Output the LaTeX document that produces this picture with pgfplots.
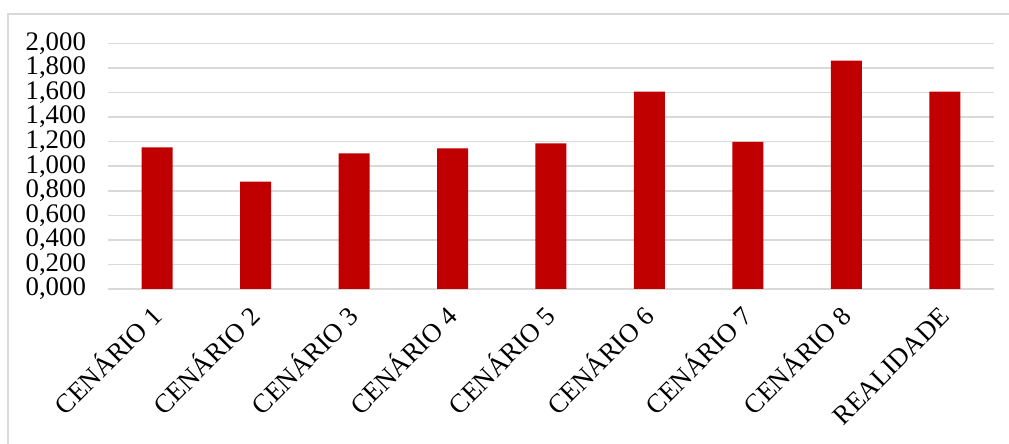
\documentclass[border=0pt]{standalone}
\usepackage{pgfplots}
\pgfplotsset{compat=1.18}
\usepackage{fontspec}
\setmainfont{Liberation Serif}
\definecolor{barred}{HTML}{C00000}
\definecolor{gridgray}{HTML}{D9D9D9}
\begin{document}
\begin{tikzpicture}
\useasboundingbox (0,0) rectangle (504.5pt,222pt);
\draw[gridgray, line width=0.8pt] (4pt,0) -- (4pt,215pt) -- (504.5pt,215pt);
\begin{axis}[
  at={(54pt,77.5pt)}, anchor=south west,
  scale only axis, width=443pt, height=122.75pt,
  xmin=-0.5, xmax=8.5, ymin=0, ymax=2,
  ytick={0,0.2,0.4,0.6,0.8,1.0,1.2,1.4,1.6,1.8,2.0},
  xtick={0,1,2,3,4,5,6,7,8},
  xticklabels={CENÁRIO 1,CENÁRIO 2,CENÁRIO 3,CENÁRIO 4,CENÁRIO 5,CENÁRIO 6,CENÁRIO 7,CENÁRIO 8,REALIDADE},
  axis line style={draw=none},
  major tick length=0pt,
  ymajorgrids, grid style={gridgray, line width=0.75pt},
  /pgf/number format/assume math mode=true,
  yticklabel={\pgfmathprintnumber[fixed, fixed zerofill, precision=3, use comma]{\tick}},
  yticklabel style={font=\fontsize{13.4}{16}\selectfont, anchor=east, xshift=-7.5pt},
  xticklabel style={font=\fontsize{13.3}{16}\selectfont, xshift=3.3pt, yshift=-14.6pt, rotate=45, anchor=base east, inner sep=0pt},
  clip=false,
]
\addplot[ybar, bar width=15.5pt, fill=barred, draw=none] coordinates {
(0,1.154) (1,0.874) (2,1.105) (3,1.146) (4,1.187) (5,1.607) (6,1.198) (7,1.860) (8,1.607)
};
\end{axis}
\end{tikzpicture}
\end{document}
